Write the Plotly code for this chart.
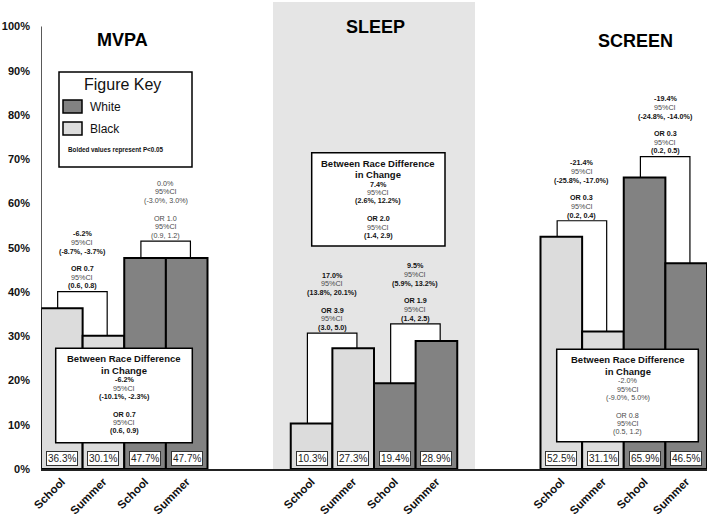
import plotly.graph_objects as go

# ---------------- data ----------------
domains = ["MVPA", "SLEEP", "SCREEN"]
periods = ["School", "Summer"]
races = ["White", "Black"]

mvpa_black = [36.3, 30.1]
mvpa_white = [47.7, 47.7]
sleep_black = [10.3, 27.3]
sleep_white = [19.4, 28.9]
screen_black = [52.5, 31.1]
screen_white = [65.9, 46.5]

black_values = [mvpa_black, sleep_black, screen_black]
white_values = [mvpa_white, sleep_white, screen_white]

# bracket heights (%) for within-race change: [black, white] per domain
bracket_levels = [[40.1, 51.5], [30.7, 32.8], [56.1, 70.6]]

# within-race change stats: (change, CI, OR, OR CI, bold)
mvpa_black_stats = ["-6.2%", "(-8.7%, -3.7%)", "OR 0.7", "(0.6, 0.8)", True]
mvpa_white_stats = ["0.0%", "(-3.0%, 3.0%)", "OR 1.0", "(0.9, 1.2)", False]
sleep_black_stats = ["17.0%", "(13.8%, 20.1%)", "OR 3.9", "(3.0, 5.0)", True]
sleep_white_stats = ["9.5%", "(5.9%, 13.2%)", "OR 1.9", "(1.4, 2.5)", True]
screen_black_stats = ["-21.4%", "(-25.8%, -17.0%)", "OR 0.3", "(0.2, 0.4)", True]
screen_white_stats = ["-19.4%", "(-24.8%, -14.0%)", "OR 0.3", "(0.2, 0.5)", True]
bracket_stats = [[mvpa_black_stats, mvpa_white_stats],
                 [sleep_black_stats, sleep_white_stats],
                 [screen_black_stats, screen_white_stats]]

# between race difference in change
mvpa_between = ["-6.2%", "(-10.1%, -2.3%)", "OR 0.7", "(0.6, 0.9)", True]
sleep_between = ["7.4%", "(2.6%, 12.2%)", "OR 2.0", "(1.4, 2.9)", True]
screen_between = ["-2.0%", "(-9.0%, 5.0%)", "OR 0.8", "(0.5, 1.2)", False]
between_stats = [mvpa_between, sleep_between, screen_between]

y_tick_values = list(range(0, 101, 10))
y_tick_labels = [f"{v}%" for v in y_tick_values]

# ---------------- styling ----------------
FONT = "Liberation Sans, Arial, sans-serif"
LIGHT = "#dcdcdc"
DARK = "#828282"
BG_GRAY = "#e5e5e5"
TXT = "#111111"
TXT_SOFT = "#4a4a4a"

W, H = 709, 517
X0_PX, UNIT_PX = 41.0, 41.625
BASE_PX, PCT_PX = 469.0, 4.425
ML, MR, MT, MB = 41, 2, 2, 48
Y_TOP = (H - MT - MB) / PCT_PX


def ux(px):
    return (px - X0_PX) / UNIT_PX


def uy(py):
    return (BASE_PX - py) / PCT_PX


GROUP_STEP = 6


def bar_pos(g, i):
    return g * GROUP_STEP + i + 0.5


fig = go.Figure()

# bars
bx_black, by_black, bx_white, by_white = [], [], [], []
for g in range(3):
    for i in range(2):
        bx_black.append(bar_pos(g, i))
        by_black.append(black_values[g][i])
        bx_white.append(bar_pos(g, 2 + i))
        by_white.append(white_values[g][i])

fig.add_trace(go.Bar(x=bx_black, y=by_black, width=1, name="Black",
                     marker=dict(color=LIGHT, line=dict(color="black", width=2)),
                     showlegend=False, hoverinfo="skip"))
fig.add_trace(go.Bar(x=bx_white, y=by_white, width=1, name="White",
                     marker=dict(color=DARK, line=dict(color="black", width=2)),
                     showlegend=False, hoverinfo="skip"))

shapes = []
annots = []

# gray SLEEP panel
shapes.append(dict(type="rect", xref="x", yref="y", x0=ux(273), x1=ux(475),
                   y0=0, y1=Y_TOP, fillcolor=BG_GRAY, line=dict(width=0),
                   layer="below"))


def stat_lines(st):
    v, ci, orv, orci, bold = st
    return [(v, bold), ("95%CI", False), (ci, bold), ("", False),
            (orv, bold), ("95%CI", False), (orci, bold)]


def line_annot(x, y, text, bold, size, yshift):
    if text == "":
        return
    color = TXT if bold else TXT_SOFT
    annots.append(dict(x=x, y=y, xref="x", yref="y", text=text, showarrow=False,
                       xanchor="center", yanchor="middle", yshift=yshift,
                       font=dict(family=FONT, size=size, color=color,
                                 weight="bold" if bold else "normal")))


# brackets (white filled, below bars) + text
for g in range(3):
    for r in range(2):  # 0 black, 1 white
        left = bar_pos(g, 2 * r) - 0.1
        right = bar_pos(g, 2 * r + 1) + 0.09
        lvl = bracket_levels[g][r]
        shapes.append(dict(type="rect", xref="x", yref="y", x0=left, x1=right,
                           y0=0, y1=lvl, fillcolor="white",
                           line=dict(color="black", width=1.2), layer="below"))
        lines = stat_lines(bracket_stats[g][r])
        xc = (left + right) / 2
        n = len(lines)
        for k, (t, b) in enumerate(lines):
            line_annot(xc, lvl, t, b, 7.2, 5.7 + (n - 1 - k) * 8.7)

# between-race boxes
box_px = [(55.7, 192.3, 348.3, 442.7), (311.7, 445.0, 152.7, 246.0),
          (556.7, 698.3, 349.3, 441.7)]
for g in range(3):
    x0p, x1p, y0p, y1p = box_px[g]
    shapes.append(dict(type="rect", xref="x", yref="y", x0=ux(x0p), x1=ux(x1p),
                       y0=uy(y1p), y1=uy(y0p), fillcolor="white",
                       line=dict(color="black", width=1.5), layer="above"))
    xc = ux((x0p + x1p) / 2)
    ytop = uy(y0p)
    for text, off in [("Between Race Difference", 10.5), ("in Change", 22)]:
        annots.append(dict(x=xc, y=ytop, xref="x", yref="y", text=text,
                           showarrow=False, xanchor="center", yanchor="middle",
                           yshift=-off,
                           font=dict(family=FONT, size=9.5, color=TXT, weight="bold")))
    offs = [31.5, 39.8, 48.1, 57, 66, 74.3, 82.6]
    for (t, b), off in zip(stat_lines(between_stats[g]), offs):
        line_annot(xc, ytop, t, b, 7.2, -off)

# value boxes at bottom of bars
for xs, ys in [(bx_black, by_black), (bx_white, by_white)]:
    for x, v in zip(xs, ys):
        annots.append(dict(x=x, y=0, xref="x", yref="y", text=f"{v:.1f}%",
                           showarrow=False, xanchor="center", yanchor="middle",
                           yshift=10.5, bgcolor="white", bordercolor="#333333",
                           borderwidth=1, borderpad=1,
                           font=dict(family=FONT, size=10, color="#222222")))

# domain titles
title_px = [(122, 40), (375, 27), (635, 41)]
for name, (tx, ty) in zip(domains, title_px):
    annots.append(dict(x=ux(tx), y=uy(ty), xref="x", yref="y", text=name,
                       showarrow=False, xanchor="center", yanchor="middle",
                       font=dict(family=FONT, size=18, color="black", weight="bold")))

# Figure key
shapes.append(dict(type="rect", xref="x", yref="y", x0=ux(59), x1=ux(192),
                   y0=uy(167), y1=uy(72), fillcolor="white",
                   line=dict(color="black", width=1.5), layer="above"))
annots.append(dict(x=ux(122), y=uy(84), xref="x", yref="y", text="Figure Key",
                   showarrow=False, xanchor="center", yanchor="middle",
                   font=dict(family=FONT, size=16, color="#111111")))
key_rows = [(races[0], DARK, 106.5), (races[1], LIGHT, 128.5)]
for label, col, cy in key_rows:
    shapes.append(dict(type="rect", xref="x", yref="y", x0=ux(63), x1=ux(82),
                       y0=uy(cy + 6.5), y1=uy(cy - 6.5), fillcolor=col,
                       line=dict(color="black", width=1.5), layer="above"))
    annots.append(dict(x=ux(88), y=uy(cy), xref="x", yref="y", text=label,
                       showarrow=False, xanchor="left", yanchor="middle",
                       font=dict(family=FONT, size=12, color="#111111")))
annots.append(dict(x=ux(66), y=uy(150), xref="x", yref="y",
                   text="Bolded values represent P<0.05", showarrow=False,
                   xanchor="left", yanchor="middle",
                   font=dict(family=FONT, size=6.3, color="#111111", weight="bold")))

# y axis line (0-100%)
shapes.append(dict(type="line", xref="x", yref="y", x0=0, x1=0, y0=0, y1=100,
                   line=dict(color="#222222", width=1.5), layer="above"))

tickvals = [bar_pos(g, i) for g in range(3) for i in range(4)]
ticktext = [periods[i % 2] for g in range(3) for i in range(4)]

fig.update_layout(
    template="none",
    width=W, height=H,
    margin=dict(l=ML, r=MR, t=MT, b=MB, autoexpand=False),
    paper_bgcolor="white", plot_bgcolor="white",
    barmode="overlay", bargap=0,
    shapes=shapes, annotations=annots,
    xaxis=dict(range=[0, 16], tickvals=tickvals, ticktext=ticktext,
               tickangle=-45, showgrid=False, zeroline=False, automargin=False,
               showline=True, linecolor="#222222", linewidth=1.5,
               ticks="", ticklabelstandoff=0,
               tickfont=dict(family=FONT, size=11.5, color="#111111", weight="bold")),
    yaxis=dict(range=[0, Y_TOP], tickvals=y_tick_values, ticktext=y_tick_labels,
               showgrid=False, zeroline=False, showline=False, automargin=False,
               ticks="", ticklabelstandoff=10,
               tickfont=dict(family=FONT, size=11, color="#111111", weight="bold")),
)

fig.write_html("out.html",
               config={"displayModeBar": False, "staticPlot": True},
               post_script="document.body.style.margin='0';document.body.style.overflow='hidden';")
